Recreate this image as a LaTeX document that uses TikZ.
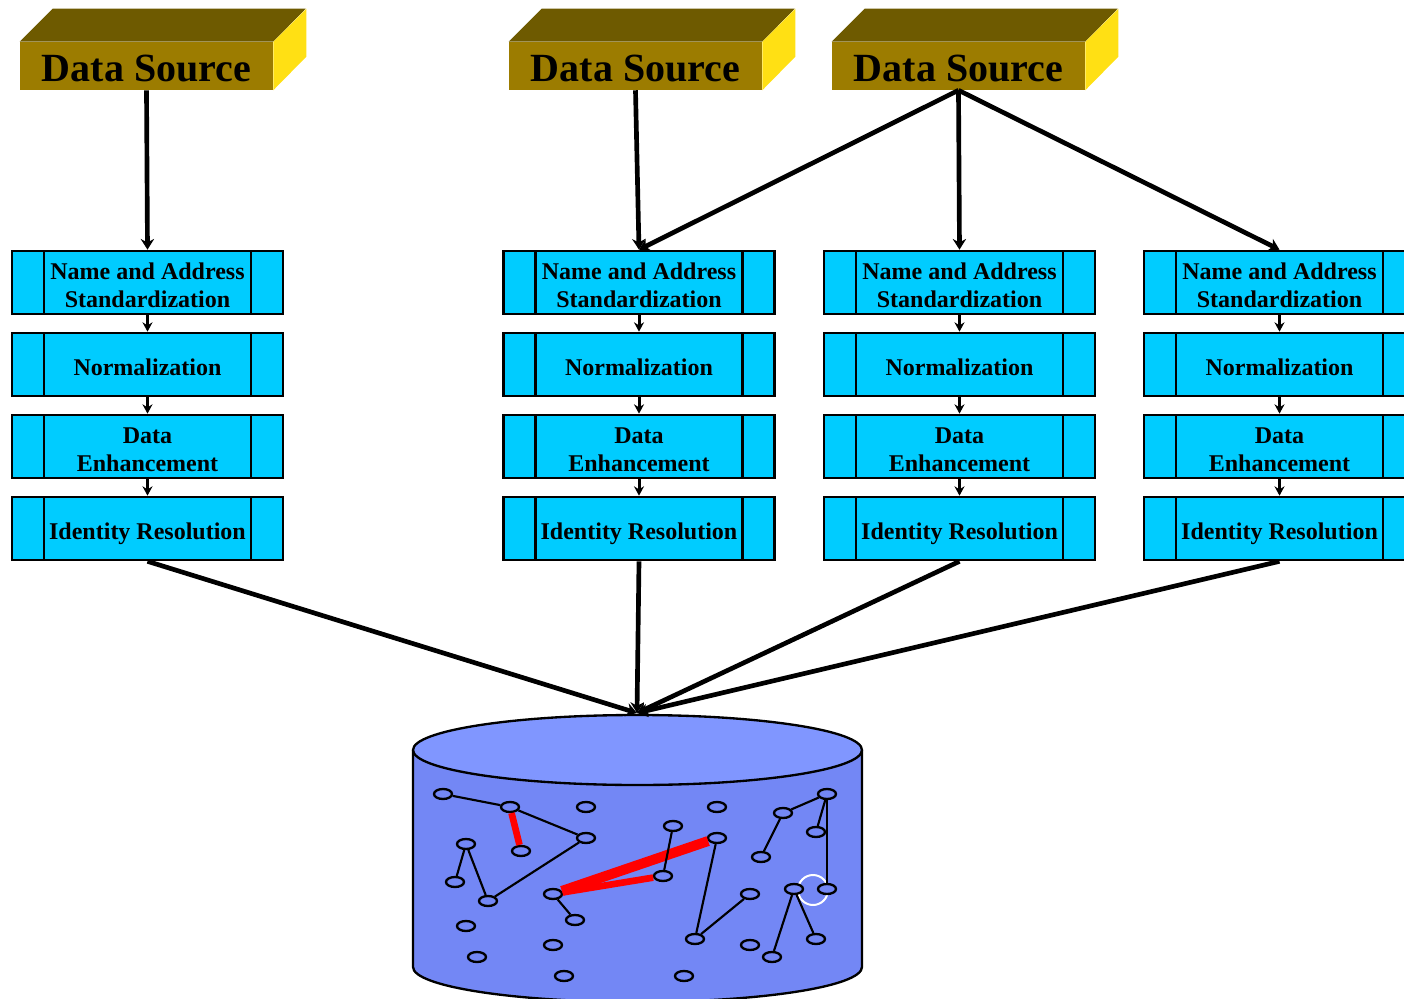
\documentclass[tikz,border=0pt]{standalone}
\usepackage{fontspec}
\setmainfont{Liberation Serif}
\usepackage{xcolor}
\usepackage{tikz}
\usetikzlibrary{arrows.meta,shapes.geometric}

\definecolor{srcfront}{RGB}{156,124,0}
\definecolor{srctop}{RGB}{110,90,0}
\definecolor{srcside}{RGB}{255,224,20}
\definecolor{stagefill}{RGB}{0,204,255}
\definecolor{dbtop}{RGB}{128,150,255}
\definecolor{dbbody}{RGB}{115,135,245}

\begin{document}
\begin{tikzpicture}[x=0.75pt,y=0.75pt,yscale=-1,xscale=1,
    source/.style={fill=srcfront, minimum width=189.75pt, minimum height=36pt, inner sep=0pt, text height=24pt, text depth=0pt, font=\fontsize{30}{32}\selectfont\bfseries},
    stage/.style={draw, line width=2pt, fill=stagefill, minimum width=203.25pt, minimum height=47.25pt, inner sep=0pt, text height=16.5pt, text depth=0pt, align=center, font=\fontsize{18}{21}\selectfont\bfseries,
        path picture={\draw[line width=2pt] ([xshift=24pt]path picture bounding box.north west) -- ([xshift=24pt]path picture bounding box.south west) ([xshift=-24pt]path picture bounding box.north east) -- ([xshift=-24pt]path picture bounding box.south east);}},
    twoline/.style={text height=37pt},
    feed/.style={line width=3.5pt, -{Stealth[length=8pt,width=10pt]}},
    hop/.style={line width=2.25pt, -{Stealth[length=7pt,width=7.5pt]}},
    rec/.style={draw, ellipse, line width=1.75pt, fill=dbbody, minimum width=13.5pt, minimum height=7.5pt, inner sep=0pt},
    link/.style={line width=1.6pt},
    dup/.style={red, line width=#1},
    dup/.default=5pt
]
\useasboundingbox (0,0) rectangle (1404,999);

% data sources
\node[source] (ds1) at (146.5,66) {Data Source};
\fill[srctop] (ds1.north west) -- ++(33,-33) -- ++(253,0) -- (ds1.north east) -- cycle;
\fill[srcside] (ds1.north east) -- ++(33,-33) -- ++(0,48) -- (ds1.south east) -- cycle;
\node[source] (ds2) at (635.5,66) {Data Source};
\fill[srctop] (ds2.north west) -- ++(33,-33) -- ++(253,0) -- (ds2.north east) -- cycle;
\fill[srcside] (ds2.north east) -- ++(33,-33) -- ++(0,48) -- (ds2.south east) -- cycle;
\node[source] (ds3) at (958.5,66) {Data Source};
\fill[srctop] (ds3.north west) -- ++(33,-33) -- ++(253,0) -- (ds3.north east) -- cycle;
\fill[srcside] (ds3.north east) -- ++(33,-33) -- ++(0,48) -- (ds3.south east) -- cycle;

% processing columns
\node[stage,twoline] (ns1) at (147.5,282.5) {Name and Address\\Standardization};
\node[stage] (nm1) at (147.5,364.5) {Normalization};
\node[stage,twoline] (de1) at (147.5,446.5) {Data\\Enhancement};
\node[stage] (ir1) at (147.5,528.5) {Identity Resolution};

\node[stage,twoline] (ns2) at (639,282.5) {Name and Address\\Standardization};
\node[stage] (nm2) at (639,364.5) {Normalization};
\node[stage,twoline] (de2) at (639,446.5) {Data\\Enhancement};
\node[stage] (ir2) at (639,528.5) {Identity Resolution};

\node[stage,twoline] (ns3) at (959.5,282.5) {Name and Address\\Standardization};
\node[stage] (nm3) at (959.5,364.5) {Normalization};
\node[stage,twoline] (de3) at (959.5,446.5) {Data\\Enhancement};
\node[stage] (ir3) at (959.5,528.5) {Identity Resolution};

\node[stage,twoline] (ns4) at (1279.5,282.5) {Name and Address\\Standardization};
\node[stage] (nm4) at (1279.5,364.5) {Normalization};
\node[stage,twoline] (de4) at (1279.5,446.5) {Data\\Enhancement};
\node[stage] (ir4) at (1279.5,528.5) {Identity Resolution};

\draw[hop] (ns1) -- (nm1);
\draw[hop] (nm1) -- (de1);
\draw[hop] (de1) -- (ir1);
\draw[hop] (ns2) -- (nm2);
\draw[hop] (nm2) -- (de2);
\draw[hop] (de2) -- (ir2);
\draw[hop] (ns3) -- (nm3);
\draw[hop] (nm3) -- (de3);
\draw[hop] (de3) -- (ir3);
\draw[hop] (ns4) -- (nm4);
\draw[hop] (nm4) -- (de4);
\draw[hop] (de4) -- (ir4);

\draw[feed] (ds1.south) -- (ns1.north);
\draw[feed] (ds2.south) -- (ns2.north);
\draw[feed] (ds3.south) -- (ns2.north);
\draw[feed] (ds3.south) -- (ns3.north);
\draw[feed] (ds3.south) -- (ns4.north);

% record store
\draw[line width=1.75pt, fill=dbbody] (413,750) -- (413,967) arc[start angle=180, end angle=0, x radius=224.5, y radius=35] -- (862,750);
\draw[line width=1.75pt, fill=dbtop] (637.5,750) ellipse [x radius=224.5, y radius=35];
\coordinate (store) at (637,713);

\draw[feed] (ir1.south) -- (store);
\draw[feed] (ir2.south) -- (store);
\draw[feed] (ir3.south) -- (store);
\draw[feed] (ir4.south) -- (store);

\draw[white, line width=1.5pt] (813,890) circle (15);

\node[rec] (ra) at (443,794) {};
\node[rec] (rb) at (510,807) {};
\node[rec] (rc) at (586,807) {};
\node[rec] (rd) at (717,807) {};
\node[rec] (re) at (827,794) {};
\node[rec] (rf) at (783,813) {};
\node[rec] (rg) at (673,826) {};
\node[rec] (rh) at (816,832) {};
\node[rec] (ri) at (586,838) {};
\node[rec] (rj) at (717,838) {};
\node[rec] (rk) at (466,844) {};
\node[rec] (rl) at (521,851) {};
\node[rec] (rm) at (761,857) {};
\node[rec] (rn) at (455,882) {};
\node[rec] (ro) at (663,876) {};
\node[rec] (rp) at (794,889) {};
\node[rec] (rq) at (827,889) {};
\node[rec] (rr) at (553,894) {};
\node[rec] (rs) at (750,894) {};
\node[rec] (rt) at (488,901) {};
\node[rec] (ru) at (575,920) {};
\node[rec] (rv) at (466,926) {};
\node[rec] (rw) at (695,939) {};
\node[rec] (rx) at (816,939) {};
\node[rec] (ry) at (553,945) {};
\node[rec] (rz) at (750,945) {};
\node[rec] (raa) at (477,957) {};
\node[rec] (rab) at (772,957) {};
\node[rec] (rac) at (564,976) {};
\node[rec] (rad) at (684,976) {};

% duplicates
\draw[dup] (rb) -- (rl);
\draw[dup=7.5pt] (rr) -- (rj);
\draw[dup] (rr) -- (ro);

% matches
\draw[link] (ra) -- (rb);
\draw[link] (rb) -- (ri);
\draw[link] (ri) -- (rt);
\draw[link] (rt) -- (rk);
\draw[link] (rk) -- (rn);
\draw[link] (rg) -- (ro);
\draw[link] (rj) -- (rw);
\draw[link] (rw) -- (rs);
\draw[link] (re) -- (rf);
\draw[link] (rf) -- (rm);
\draw[link] (re) -- (rh);
\draw[link] (re) -- (rq);
\draw[link] (rp) -- (rab);
\draw[link] (rp) -- (rx);
\draw[link] (rr) -- (ru);
\end{tikzpicture}
\end{document}
